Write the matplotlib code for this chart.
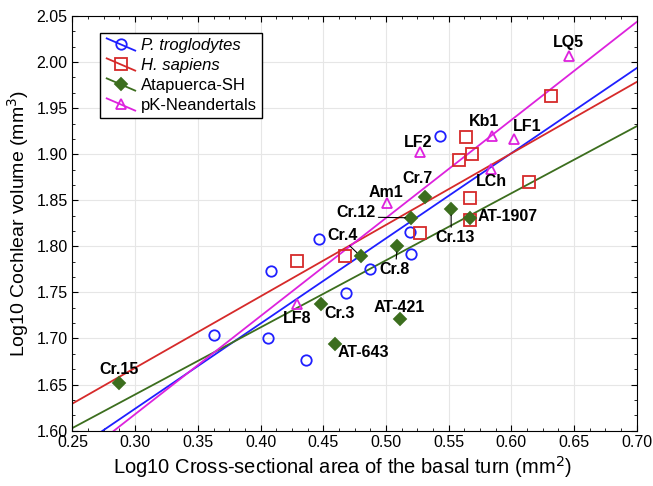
import numpy as np
import matplotlib
matplotlib.use("Agg")
import matplotlib.pyplot as plt
from matplotlib.lines import Line2D
from matplotlib.legend_handler import HandlerLine2D
from matplotlib.ticker import MultipleLocator

plt.rcParams["font.family"] = ["Liberation Sans", "DejaVu Sans"]

# P. troglodytes
pan_x = [0.363, 0.406, 0.408, 0.436, 0.447, 0.468, 0.487, 0.519, 0.520, 0.543]
pan_y = [1.704, 1.700, 1.773, 1.677, 1.808, 1.749, 1.775, 1.816, 1.792, 1.920]

# H. sapiens
hs_x = [0.429, 0.467, 0.564, 0.569, 0.558, 0.567, 0.567, 0.527, 0.614, 0.632]
hs_y = [1.784, 1.789, 1.919, 1.900, 1.894, 1.853, 1.829, 1.815, 1.870, 1.963]

# Atapuerca-SH
sh_names = ["Cr.15", "Cr.4", "Cr.3", "AT-643", "Cr.7", "Cr.12", "Cr.13", "AT-1907", "Cr.8", "AT-421"]
sh_x = [0.287, 0.480, 0.448, 0.459, 0.531, 0.520, 0.552, 0.567, 0.509, 0.511]
sh_y = [1.652, 1.789, 1.737, 1.694, 1.854, 1.831, 1.840, 1.831, 1.800, 1.721]

# pK-Neandertals
nea_names = ["LF8", "Am1", "LF2", "Kb1", "LF1", "LCh", "LQ5"]
nea_x = [0.429, 0.501, 0.527, 0.585, 0.602, 0.584, 0.646]
nea_y = [1.737, 1.847, 1.902, 1.920, 1.916, 1.884, 2.007]

# label placement: name -> (dx px, dy px, leader relpos or None)
label_pos = {
    "Cr.15": (0, 13, None), "Cr.4": (-18, 21, (0.63, 0.0)), "Cr.3": (19, -9, None),
    "AT-643": (29, -9, None), "Cr.7": (-7, 18, None), "Cr.12": (-55, 5, (1.0, 0.2)),
    "Cr.13": (4, -28, (0.4, 1.0)), "AT-1907": (38, 1, None), "Cr.8": (-3, -23, (0.56, 1.0)),
    "AT-421": (0, 12, None),
    "LF8": (0, -14, None), "Am1": (-1, 11, None), "LF2": (-2, 10, None), "Kb1": (-8, 14, None),
    "LF1": (13, 13, None), "LCh": (0, -13, None), "LQ5": (-1, 13, None),
}

c_pan, c_hs, c_sh, c_nea = "#1f1fff", "#d62a2a", "#3c6e1e", "#dd22dd"


class DiagHandler(HandlerLine2D):
    def create_artists(self, legend, orig_handle, xdescent, ydescent,
                       width, height, fontsize, trans):
        x0, x1 = -xdescent + 0.05 * width, -xdescent + 0.95 * width
        y0, y1 = -ydescent + 1.0 * height, -ydescent - 0.05 * height
        line = Line2D([x0, x1], [y0, y1], color=orig_handle.get_color(), lw=1.3)
        mk = Line2D([(x0 + x1) / 2], [(y0 + y1) / 2], ls="none",
                    marker=orig_handle.get_marker(),
                    markersize=orig_handle.get_markersize(),
                    markerfacecolor=orig_handle.get_markerfacecolor(),
                    markeredgecolor=orig_handle.get_markeredgecolor(),
                    markeredgewidth=orig_handle.get_markeredgewidth())
        line.set_transform(trans)
        mk.set_transform(trans)
        return [line, mk]


fig, ax = plt.subplots(figsize=(6.53, 4.86), dpi=100)
fig.subplots_adjust(left=0.111, right=0.975, bottom=0.114, top=0.967)

groups = [
    (pan_x, pan_y, c_pan, "o", "none", 7.5, "P. troglodytes"),
    (hs_x, hs_y, c_hs, "s", "none", 8, "H. sapiens"),
    (sh_x, sh_y, c_sh, "D", c_sh, 6.5, "Atapuerca-SH"),
    (nea_x, nea_y, c_nea, "^", "none", 7.5, "pK-Neandertals"),
]

xs = np.linspace(0.25, 0.70, 50)
handles = []
for gx, gy, col, mk, fc, ms, lab in groups:
    b, a = np.polyfit(gx, gy, 1)
    ax.plot(xs, a + b * xs, color=col, lw=1.3, zorder=2)
for i, (gx, gy, col, mk, fc, ms, lab) in enumerate(groups):
    h, = ax.plot(gx, gy, ls="none", marker=mk, ms=ms, mfc=fc, mec=col,
                 mew=1.3, color=col, zorder=4 + i, label=lab)
    handles.append(h)

for names, gx, gy in [(sh_names, sh_x, sh_y), (nea_names, nea_x, nea_y)]:
    for n, px, py in zip(names, gx, gy):
        dx, dy, rel = label_pos[n]
        kw = {}
        if rel is not None:
            kw["arrowprops"] = dict(arrowstyle="-", color="black", lw=0.8,
                                    relpos=rel, shrinkA=0, shrinkB=4)
        ax.annotate(n, (px, py), xytext=(dx, dy), textcoords="offset pixels",
                    ha="center", va="center", fontsize=11.5, fontweight="bold",
                    zorder=10, **kw)

ax.set_xlim(0.25, 0.70)
ax.set_ylim(1.60, 2.05)
ax.xaxis.set_major_locator(MultipleLocator(0.05))
ax.yaxis.set_major_locator(MultipleLocator(0.05))
ax.xaxis.set_minor_locator(MultipleLocator(0.0125))
ax.yaxis.set_minor_locator(MultipleLocator(0.05 / 3))
ax.xaxis.set_major_formatter(plt.FormatStrFormatter("%.2f"))
ax.yaxis.set_major_formatter(plt.FormatStrFormatter("%.2f"))
ax.tick_params(which="both", direction="in", top=True, right=True)
ax.tick_params(which="major", length=4, labelsize=11.5)
ax.tick_params(which="minor", length=2.5)
ax.grid(True, which="major", color="#e6e6e6", lw=0.8, zorder=0)
ax.set_axisbelow(True)

ax.set_xlabel("Log10 Cross-sectional area of the basal turn (mm$^2$)", fontsize=14.5)
ax.set_ylabel("Log10 Cochlear volume (mm$^3$)", fontsize=14)
ax.xaxis.set_label_coords(0.478, -0.056)

leg = ax.legend(handles=handles, loc="upper left", bbox_to_anchor=(0.049, 0.959),
                borderaxespad=0, fontsize=12, fancybox=False, edgecolor="black",
                framealpha=1, handlelength=1.9, handletextpad=0.25,
                labelspacing=0.3, borderpad=0.3,
                handler_map={Line2D: DiagHandler()})
leg.get_frame().set_linewidth(1.0)
leg.get_texts()[0].set_style("italic")
leg.get_texts()[1].set_style("italic")

fig.savefig("out.png", dpi=100)
